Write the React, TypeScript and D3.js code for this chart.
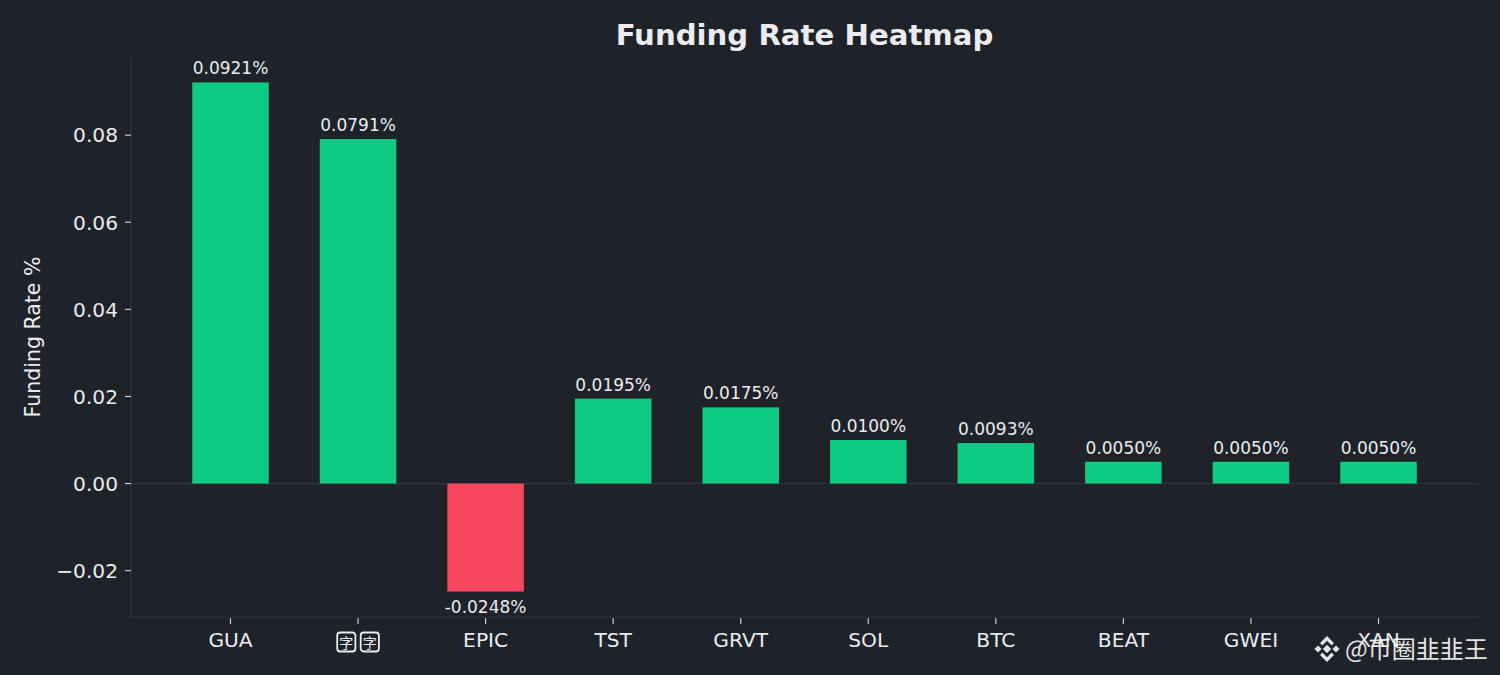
import * as d3 from 'd3';
import React, { useEffect } from 'react';

const symbols = ['GUA', '字字', 'EPIC', 'TST', 'GRVT', 'SOL', 'BTC', 'BEAT', 'GWEI', 'XAN'];
const rates = [0.0921, 0.0791, -0.0248, 0.0195, 0.0175, 0.01, 0.0093, 0.005, 0.005, 0.005];
const yTicks = [-0.02, 0, 0.02, 0.04, 0.06, 0.08];

const BG = '#1f2229';
const GREEN = '#0ecb81';
const RED = '#f6465d';
const TEXT = '#eaecef';
const SPINE = '#2f3540';
const FONT = '"DejaVu Sans", sans-serif';

export default function App() {
  const ref = React.useRef<SVGSVGElement>(null);

  useEffect(() => {
    document.body.style.margin = '0';
    document.body.style.background = BG;
    if (!ref.current) return;
    const W = 1500;
    const H = 675;
    const margin = { top: 57, right: 22, bottom: 58, left: 131 };
    const width = W - margin.left - margin.right;
    const height = H - margin.top - margin.bottom;

    const root = d3.select(ref.current);
    root.selectAll('*').remove();
    root.append('rect').attr('width', W).attr('height', H).attr('fill', BG);

    const g = root.append('g').attr('transform', `translate(${margin.left},${margin.top})`);

    // matplotlib-like 5% margins around the data
    const lo = Math.min(0, d3.min(rates)!);
    const hi = Math.max(0, d3.max(rates)!);
    const pad = (hi - lo) * 0.05;
    const y = d3.scaleLinear().domain([lo - pad, hi + pad]).range([height, 0]);
    const x = d3.scaleBand().domain(symbols).range([0, width]).paddingInner(0.4).paddingOuter(0.48);

    // zero line
    g.append('line')
      .attr('x1', 0)
      .attr('x2', width)
      .attr('y1', y(0))
      .attr('y2', y(0))
      .attr('stroke', SPINE)
      .attr('stroke-width', 1.2);

    // bars
    g.selectAll('rect.bar')
      .data(rates)
      .enter()
      .append('rect')
      .attr('class', 'bar')
      .attr('x', (d, i) => x(symbols[i])!)
      .attr('width', x.bandwidth())
      .attr('y', d => y(Math.max(0, d)))
      .attr('height', d => Math.abs(y(d) - y(0)))
      .attr('fill', d => (d >= 0 ? GREEN : RED));

    // value labels
    g.selectAll('text.val')
      .data(rates)
      .enter()
      .append('text')
      .attr('class', 'val')
      .attr('x', (d, i) => x(symbols[i])! + x.bandwidth() / 2)
      .attr('y', d => (d >= 0 ? y(d) - 8 : y(d) + 21))
      .attr('text-anchor', 'middle')
      .attr('fill', TEXT)
      .attr('font-family', FONT)
      .attr('font-size', 17)
      .text(d => `${d.toFixed(4)}%`);

    // spines
    g.append('line').attr('x1', 0).attr('x2', 0).attr('y1', 0).attr('y2', height)
      .attr('stroke', SPINE).attr('stroke-width', 1.2);
    g.append('line').attr('x1', 0).attr('x2', width).attr('y1', height).attr('y2', height)
      .attr('stroke', SPINE).attr('stroke-width', 1.2);

    // y axis
    const fmt = d3.format('.2f');
    const yt = g.selectAll('g.yt').data(yTicks).enter().append('g').attr('class', 'yt')
      .attr('transform', d => `translate(0,${y(d)})`);
    yt.append('line').attr('x1', -6).attr('x2', 0).attr('stroke', '#c9ccd1').attr('stroke-width', 1.2);
    yt.append('text')
      .attr('x', -13)
      .attr('dy', '0.36em')
      .attr('text-anchor', 'end')
      .attr('fill', TEXT)
      .attr('font-family', FONT)
      .attr('font-size', 20.2)
      .text(d => fmt(d));

    // x axis
    const xt = g.selectAll('g.xt').data(symbols).enter().append('g').attr('class', 'xt')
      .attr('transform', d => `translate(${x(d)! + x.bandwidth() / 2},${height})`);
    xt.append('line').attr('y1', 1).attr('y2', 7).attr('stroke', '#c9ccd1').attr('stroke-width', 1.2);
    xt.each(function (d) {
      const t = d3.select(this);
      if (/[\u4e00-\u9fff]/.test(d)) {
        // missing-glyph boxes as rendered in the source
        const chars = Array.from(d);
        const bw = 20;
        const gap = 3.5;
        const total = chars.length * bw + (chars.length - 1) * gap;
        chars.forEach((c, i) => {
          const bx = -total / 2 + i * (bw + gap);
          t.append('rect').attr('x', bx + 0.9).attr('y', 15.5).attr('width', bw - 1.8).attr('height', 19)
            .attr('rx', 3).attr('fill', 'none').attr('stroke', TEXT).attr('stroke-width', 1.8);
          t.append('text').attr('x', bx + bw / 2).attr('y', 30.5).attr('text-anchor', 'middle')
            .attr('fill', TEXT).attr('font-family', '"Noto Sans CJK SC", sans-serif').attr('font-size', 14)
            .text(c);
        });
      } else {
        t.append('text')
          .attr('y', 30)
          .attr('text-anchor', 'middle')
          .attr('fill', TEXT)
          .attr('font-family', FONT)
          .attr('font-size', 20.2)
          .text(d);
      }
    });

    // axis label
    root.append('text')
      .attr('transform', `translate(40,${margin.top + height / 2}) rotate(-90)`)
      .attr('text-anchor', 'middle')
      .attr('fill', TEXT)
      .attr('font-family', FONT)
      .attr('font-size', 20.5)
      .text('Funding Rate %');

    // title
    root.append('text')
      .attr('x', margin.left + width / 2)
      .attr('y', 45)
      .attr('text-anchor', 'middle')
      .attr('fill', TEXT)
      .attr('font-family', FONT)
      .attr('font-weight', 'bold')
      .attr('font-size', 29.2)
      .text('Funding Rate Heatmap');

    // watermark
    const wm = root.append('g').attr('transform', 'translate(1327,649)').attr('opacity', 0.88);
    const dia = (cx: number, cy: number, r: number) =>
      `M${cx},${cy - r}L${cx + r},${cy}L${cx},${cy + r}L${cx - r},${cy}Z`;
    // Binance-style mark
    wm.append('path').attr('d', dia(0, 0, 4.2)).attr('fill', '#ffffff');
    wm.append('path').attr('d', dia(-9, 0, 3.6)).attr('fill', '#ffffff');
    wm.append('path').attr('d', dia(9, 0, 3.6)).attr('fill', '#ffffff');
    wm.append('path').attr('d', 'M0,-13L7,-6L4.6,-3.6L0,-8.2L-4.6,-3.6L-7,-6Z').attr('fill', '#ffffff');
    wm.append('path').attr('d', 'M0,13L7,6L4.6,3.6L0,8.2L-4.6,3.6L-7,6Z').attr('fill', '#ffffff');
    wm.append('text')
      .attr('x', 18)
      .attr('y', 9)
      .attr('fill', '#ffffff')
      .attr('font-family', '"Noto Sans CJK SC", sans-serif')
      .attr('font-size', 24)
      .text('@币圈韭韭王');
  }, []);

  return <svg ref={ref} width={1500} height={675} style={{ display: 'block' }} />;
}
